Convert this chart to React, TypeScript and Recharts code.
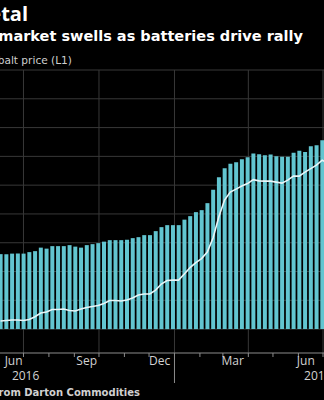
import { ComposedChart, Bar, Line, XAxis, YAxis, CartesianGrid } from "recharts";

// weekly readings, Fridays, starting at FIRST_WEEK
const FIRST_WEEK = "2016-06-03";

// bars (right axis, cut off in the crop)
const STOCKPILE = [
  2604, 2604, 2622, 2622, 2622, 2674, 2708, 2830, 2795, 2882,
  2882, 2882, 2917, 2865, 2830, 2917, 2951, 2986, 3038, 3090,
  3090, 3090, 3108, 3160, 3194, 3264, 3264, 3403, 3542, 3611,
  3611, 3611, 3802, 3924, 4063, 4132, 4375, 4844, 5278, 5590,
  5747, 5799, 5903, 5972, 6101, 6076, 6042, 6066, 6007, 5983,
  5983, 6122, 6191, 6156, 6354, 6389, 6563, 6493,
];

// cobalt price, $/lb (L1)
const PRICE = [
  10.83, 10.89, 10.94, 10.94, 10.89, 10.99, 11.28, 11.67, 11.77, 12.03,
  12.03, 12.08, 11.93, 11.88, 12.08, 12.24, 12.34, 12.45, 12.66, 12.97,
  12.97, 12.92, 13.02, 13.23, 13.54, 13.65, 13.65, 14.06, 14.69, 15.05,
  15.1, 15.1, 15.73, 16.41, 16.93, 17.34, 18.02, 19.48, 21.67, 23.44,
  24.27, 24.58, 24.9, 25.16, 25.57, 25.44, 25.42, 25.42, 25.31, 25.21,
  25.52, 25.94, 25.94, 26.35, 26.72, 27.08, 27.6, 27.29,
];

const MONTH_STARTS = [
  "2016-07-01", "2016-08-01", "2016-09-01", "2016-10-01", "2016-11-01",
  "2016-12-01", "2017-01-01", "2017-02-01", "2017-03-01", "2017-04-01",
  "2017-05-01", "2017-06-01", "2017-07-01",
];
const QUARTER_STARTS = ["2016-07-01", "2016-10-01", "2017-01-01", "2017-04-01", "2017-07-01"];
const YEAR_START = "2017-01-01";
const MONTH_LABELS = ["Jun", "Sep", "Dec", "Mar", "Jun"];
const MONTH_LABEL_DATES = ["2016-06-19", "2016-09-16", "2016-12-14", "2017-03-13", "2017-06-10"];
const YEAR_LABELS = ["2016", "", "", "", "2017"];
const STOCK_GRID = [0, 1000, 2000, 3000, 4000, 5000, 6000, 7000, 8000, 9000];

const DAY_MS = 86400000;
const toDay = (s: string) => Date.parse(s) / DAY_MS;

const firstDay = toDay(FIRST_WEEK);
const rows = STOCKPILE.map((v, i) => ({
  day: firstDay + i * 7,
  stock: v,
  price: PRICE[i],
}));

const labelDays = MONTH_LABEL_DATES.map(toDay);
const tickDays = [...MONTH_STARTS.map(toDay), ...labelDays].sort((a, b) => a - b);
const yearDay = toDay(YEAR_START);

const FONT = "'Open Sans', sans-serif";
const HEAD_FONT = "'DejaVu Sans', sans-serif";
const AXIS_GREY = "#8c8c8c";

function DateTick(props: any) {
  const { x, y, payload } = props;
  const i = labelDays.indexOf(payload.value);
  if (i >= 0) {
    return (
      <g>
        <text x={x} y={y + 12} textAnchor="middle" fill="#d2d2d2" fontSize={12} fontFamily={FONT}>
          {MONTH_LABELS[i]}
        </text>
        {YEAR_LABELS[i] && (
          <text x={x + 12} y={y + 27} textAnchor="middle" fill="#d2d2d2" fontSize={12} fontFamily={FONT}>
            {YEAR_LABELS[i]}
          </text>
        )}
      </g>
    );
  }
  const isYear = payload.value === yearDay;
  return <line x1={x} x2={x} y1={y} y2={y + (isYear ? 30 : 4)} stroke={AXIS_GREY} strokeWidth={1} />;
}

export default function App() {
  return (
    <div
      style={{
        position: "absolute",
        left: 0,
        top: 0,
        width: 324,
        height: 400,
        background: "#000",
        overflow: "hidden",
      }}
    >
      <ComposedChart width={324} height={400} data={rows} margin={{ top: 70, right: 0, bottom: 0, left: 0 }}>
        <CartesianGrid
          yAxisId="stock"
          stroke="#383838"
          horizontalValues={STOCK_GRID}
          verticalValues={QUARTER_STARTS.map(toDay)}
        />
        <XAxis
          dataKey="day"
          type="number"
          domain={[toDay("2016-06-02") + 0.4, toDay("2017-07-02") + 0.2]}
          allowDataOverflow
          ticks={tickDays}
          interval={0}
          tick={<DateTick />}
          tickLine={false}
          tickSize={0}
          tickMargin={0}
          axisLine={{ stroke: AXIS_GREY }}
          height={47}
        />
        <YAxis yAxisId="stock" hide domain={[-830, 9000]} ticks={STOCK_GRID} allowDataOverflow />
        <YAxis yAxisId="price" hide domain={[7.5, 37]} allowDataOverflow />
        <Bar yAxisId="stock" dataKey="stock" fill="#62c5d0" barSize={4} isAnimationActive={false} />
        <Line
          yAxisId="price"
          dataKey="price"
          type="linear"
          stroke="#eaf6f8"
          strokeWidth={1.6}
          dot={false}
          isAnimationActive={false}
        />
      </ComposedChart>
      <svg
        width={324}
        height={400}
        style={{ position: "absolute", left: 0, top: 0, pointerEvents: "none" }}
      >
        <text x={28} y={20.5} textAnchor="end" fill="#fff" fontSize={20} fontWeight={700} fontFamily={FONT}>
          Battery Metal
        </text>
        <text x={303} y={40.5} textAnchor="end" fill="#fff" fontSize={14.5} fontWeight={700} fontFamily={HEAD_FONT}>
          Cobalt market swells as batteries drive rally
        </text>
        <text x={72} y={64} textAnchor="end" fill="#cfcfcf" fontSize={10.6} fontFamily={HEAD_FONT}>
          Cobalt price (L1)
        </text>
        <text x={140} y={396} textAnchor="end" fill="#d0d0d0" fontSize={10} fontWeight={700} fontFamily={HEAD_FONT}>
          Source: Bloomberg, data from Darton Commodities
        </text>
      </svg>
    </div>
  );
}
